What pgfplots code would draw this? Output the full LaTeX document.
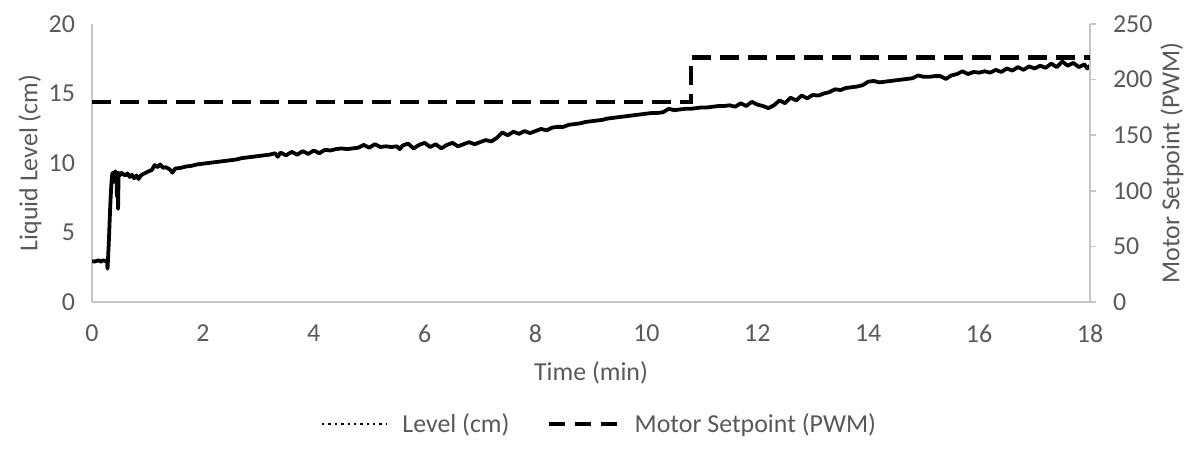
\documentclass[border=0pt]{standalone}
\usepackage{pgfplots}
\pgfplotsset{compat=1.18}
\usepackage{pgfplotstable}
\usepackage{fontspec}
\setmainfont{Carlito}
\definecolor{txt}{HTML}{595959}
\definecolor{axl}{HTML}{C6C6C6}
\pgfplotstableread{
x y
0.00 2.95
0.04 2.9
0.08 2.95
0.12 3.0
0.16 2.9
0.20 3.0
0.24 2.95
0.27 3.0
0.28 2.4
0.29 3.2
0.30 4.0
0.31 5.0
0.32 6.0
0.33 7.0
0.34 7.8
0.35 8.5
0.36 9.0
0.37 9.3
0.38 8.6
0.39 9.3
0.40 9.0
0.42 9.4
0.44 9.2
0.45 7.6
0.46 9.2
0.47 6.7
0.48 9.3
0.50 9.1
0.53 9.3
0.56 9.2
0.60 9.1
0.64 9.25
0.68 9.0
0.72 9.15
0.76 8.9
0.80 9.1
0.84 8.85
0.88 9.1
0.92 9.2
0.97 9.3
1.02 9.4
1.08 9.5
1.13 9.85
1.18 9.7
1.23 9.9
1.28 9.65
1.33 9.7
1.40 9.55
1.45 9.3
1.50 9.6
1.60 9.65
1.70 9.75
1.80 9.8
1.90 9.9
2.00 9.95
2.10 10.0
2.20 10.05
2.30 10.1
2.40 10.15
2.50 10.2
2.60 10.25
2.70 10.35
2.80 10.4
2.90 10.45
3.00 10.5
3.10 10.55
3.20 10.6
3.30 10.7
3.35 10.45
3.40 10.75
3.50 10.55
3.60 10.8
3.70 10.6
3.80 10.85
3.90 10.65
4.00 10.9
4.10 10.7
4.20 10.95
4.30 10.9
4.40 11.0
4.50 11.05
4.60 11.0
4.70 11.05
4.80 11.1
4.90 11.3
5.00 11.1
5.10 11.35
5.20 11.15
5.30 11.2
5.40 11.15
5.50 11.2
5.55 11.0
5.60 11.25
5.70 11.4
5.80 11.05
5.90 11.3
6.00 11.45
6.10 11.15
6.20 11.35
6.30 11.05
6.40 11.3
6.50 11.45
6.60 11.2
6.70 11.35
6.80 11.5
6.90 11.35
7.00 11.5
7.10 11.65
7.20 11.55
7.30 11.8
7.40 12.2
7.50 12.0
7.60 12.25
7.70 12.1
7.80 12.3
7.90 12.15
8.00 12.3
8.10 12.45
8.20 12.35
8.30 12.55
8.40 12.6
8.50 12.6
8.60 12.75
8.70 12.8
8.80 12.85
8.90 12.95
9.00 13.0
9.10 13.05
9.20 13.1
9.30 13.2
9.40 13.25
9.50 13.3
9.60 13.35
9.70 13.4
9.80 13.45
9.90 13.5
10.00 13.55
10.10 13.6
10.20 13.6
10.30 13.65
10.40 13.9
10.50 13.8
10.60 13.85
10.70 13.9
10.80 13.9
10.90 13.95
11.00 14.0
11.10 14.0
11.20 14.05
11.30 14.1
11.40 14.1
11.50 14.15
11.60 14.05
11.70 14.3
11.80 14.1
11.90 14.4
12.00 14.2
12.10 14.1
12.20 13.95
12.30 14.15
12.40 14.5
12.50 14.3
12.60 14.7
12.70 14.5
12.80 14.85
12.90 14.65
13.00 14.9
13.10 14.85
13.20 15.0
13.30 15.1
13.40 15.3
13.50 15.25
13.60 15.4
13.70 15.45
13.80 15.5
13.90 15.6
14.00 15.85
14.10 15.9
14.20 15.8
14.30 15.85
14.40 15.9
14.50 15.95
14.60 16.0
14.70 16.05
14.80 16.1
14.90 16.3
15.00 16.2
15.10 16.2
15.20 16.25
15.30 16.25
15.40 16.05
15.50 16.3
15.60 16.4
15.70 16.6
15.80 16.4
15.90 16.55
16.00 16.5
16.10 16.6
16.20 16.5
16.30 16.7
16.40 16.55
16.50 16.8
16.60 16.65
16.70 16.9
16.80 16.7
16.90 16.95
17.00 16.8
17.10 17.0
17.20 16.85
17.30 17.15
17.40 16.9
17.50 17.3
17.60 17.0
17.70 17.2
17.80 16.9
17.90 17.1
17.95 16.8
18.00 17.0
}\level
\pgfplotstableread{
x y
0 180
10.8 180
10.8 220
18 220
}\setpoint
\pgfplotsset{
  legdot/.style={legend image code/.code={\draw[black, line width=1.2pt, dash pattern=on 1.2pt off 2pt, line cap=butt] (0cm,0cm) -- (1.15cm,0cm);}},
  legdash/.style={legend image code/.code={\draw[black, line width=2.2pt, dash pattern=on 8bp off 5bp] (0cm,0cm) -- (1.23cm,0cm);}},
}
\begin{document}
\begin{tikzpicture}
\path[use as bounding box] (-46bp,-77.5bp) rectangle (547.5bp,151bp);
\pgfplotsset{
  every axis/.append style={
    scale only axis, width=499bp, height=139bp,
    xmin=0, xmax=18, xtick={0,2,...,18},
    font=\fontsize{13}{15}\selectfont,
    tick label style={text=txt},
    label style={text=txt},
    /pgf/number format/assume math mode=true,
  }
}
\begin{axis}[
  axis x line*=bottom, axis y line*=left,
  axis line style={axl, line width=0.9pt},
  ymin=0, ymax=20, ytick={0,5,...,20},
  major tick length=0pt,
  xticklabel style={yshift=-8bp},
  yticklabel style={xshift=-5bp},
  xlabel={Time (min)},
  xlabel style={at={([yshift=-35.5bp]axis description cs:0.5,0)}, anchor=center},
  ylabel={Liquid Level (cm)},
  ylabel style={at={([xshift=-31bp]axis description cs:0,0.5)}, anchor=center},
]
\addplot[black, line width=1.9pt, line join=round] table[x=x,y=y] {\level};
\end{axis}
\begin{axis}[
  axis x line=none, axis y line*=right,
  axis line style={axl, line width=0.9pt},
  ymin=0, ymax=250, ytick={0,50,...,250},
  ytick style={axl, line width=0.9pt},
  tick align=outside, major tick length=3bp,
  yticklabel style={xshift=5bp},
  ylabel={Motor Setpoint (PWM)},
  ylabel style={at={([xshift=41bp]axis description cs:1,0.5)}, anchor=center},
  legend style={at={(axis description cs:0.51,-0.439)}, anchor=center, draw=none,
    legend columns=2, font=\fontsize{13}{15}\selectfont, text=txt,
    nodes={inner sep=2.5bp},
    /tikz/every odd column/.append style={column sep=4.5bp},
    /tikz/every even column/.append style={column sep=16bp}},
  legend cell align=left,
]
\addlegendimage{legdot}
\addlegendentry{Level (cm)}
\addplot[black, line width=2.2pt, dash pattern=on 9.5bp off 4.5bp, legdash] table[x=x,y=y] {\setpoint};
\addlegendentry{Motor Setpoint (PWM)}
\end{axis}
\end{tikzpicture}
\end{document}
